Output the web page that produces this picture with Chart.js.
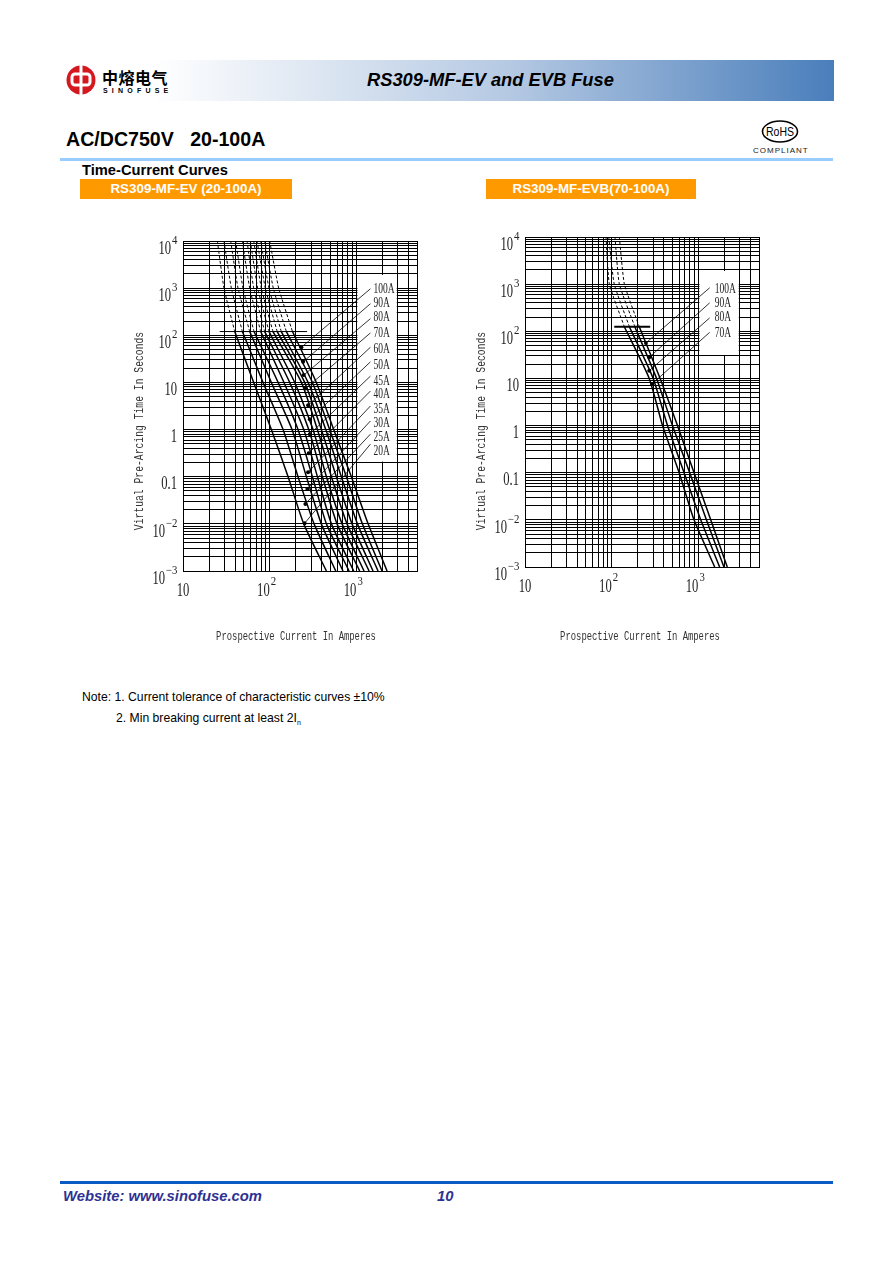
<!DOCTYPE html>
<html>
<head>
<meta charset="utf-8">
<title>RS309-MF-EV and EVB Fuse</title>
<script src="https://cdn.jsdelivr.net/npm/chart.js"></script>
<style>
  html, body { margin: 0; padding: 0; background: #fff; }
  #page { position: relative; width: 893px; height: 1263px; overflow: hidden; font-family: "Liberation Sans", Arial, sans-serif; color: #000; }
  #page > * { position: absolute; }
  canvas { position: absolute; }
  .bar { background: #ff9900; color: #fff; font-weight: bold; font-size: 13.4px; line-height: 20px; height: 20px; text-align: center; }
</style>
</head>
<body>
<div id="page">
  <div style="left:60px;top:60px;width:774px;height:41px;background:linear-gradient(90deg,#fff 0%,#fff 12%,#b5c9e3 58%,#4a7ebb 100%)"></div>
  <svg style="left:66px;top:63px" width="32" height="34" viewBox="0 0 32 34">
    <circle cx="15" cy="17" r="14.5" fill="#d4181f"/>
    <rect x="13.5" y="1" width="3" height="32" fill="#fff"/>
    <rect x="6" y="11" width="18" height="11" rx="3" fill="none" stroke="#fff" stroke-width="3"/>
  </svg>
  <div style="left:102px;top:66px;font:bold 16px 'Noto Sans CJK SC';letter-spacing:0.5px;line-height:22px;white-space:nowrap">中熔电气</div>
  <div style="left:103px;top:86px;font:bold 7px 'Liberation Sans';letter-spacing:4.2px;line-height:9px;white-space:nowrap">SINOFUSE</div>
  <div style="left:367px;top:70px;font:italic bold 18.3px 'Liberation Sans';line-height:20px;white-space:nowrap">RS309-MF-EV and EVB Fuse</div>

  <div style="left:66px;top:129px;font:bold 19.6px 'Liberation Sans';line-height:21px;white-space:pre">AC/DC750V   20-100A</div>
  <svg style="left:760px;top:119px" width="40" height="25" viewBox="0 0 40 25">
    <ellipse cx="20" cy="12.5" rx="17.5" ry="10.5" fill="none" stroke="#000" stroke-width="1.6"/>
    <text x="20" y="17" font-family="Liberation Sans" font-size="13" text-anchor="middle" textLength="28" lengthAdjust="spacingAndGlyphs">RoHS</text>
  </svg>
  <div style="left:753px;top:146px;font:8px 'Liberation Sans';letter-spacing:1px;line-height:10px;white-space:nowrap;color:#222">COMPLIANT</div>
  <div style="left:60px;top:158px;width:773px;height:3px;background:#99ccff"></div>
  <div style="left:82px;top:162px;font:bold 14.7px 'Liberation Sans';line-height:16px;white-space:nowrap">Time-Current Curves</div>
  <div class="bar" style="left:80px;top:179px;width:212px">RS309-MF-EV (20-100A)</div>
  <div class="bar" style="left:486px;top:179px;width:210px">RS309-MF-EVB(70-100A)</div>

  <canvas id="chartEv" style="left:120px;top:225px" width="310" height="430"></canvas>
  <canvas id="chartEvb" style="left:462px;top:221px" width="310" height="430"></canvas>

  <div style="left:82px;top:690px;font:12.2px 'Liberation Sans';line-height:14px;white-space:pre">Note: 1. Current tolerance of characteristic curves ±10%</div>
  <div style="left:116px;top:711px;font:12.2px 'Liberation Sans';line-height:14px;white-space:pre">2. Min breaking current at least 2I<sub style="font-size:7px;line-height:0">n</sub></div>

  <div style="left:60px;top:1181px;width:773px;height:3px;background:#0a5cc4"></div>
  <div style="left:63px;top:1187px;font:italic bold 14.8px 'Liberation Sans';line-height:18px;color:#2e3192;white-space:nowrap">Website: www.sinofuse.com</div>
  <div style="left:437px;top:1187px;font:italic bold 14.8px 'Liberation Sans';line-height:18px;color:#2e3192">10</div>
</div>

<script>
// Time levels the curves were read at (seconds)
const evTimes = [10000, 1000, 120, 10, 1, 0.1, 0.01, 0.001];
const evbTimes = [10000, 1000, 125, 10, 1, 0.1, 0.01, 0.001];

// RS309-MF-EV curves: current (A) at each time level
const ev20 = [24.9, 29.7, 39.5, 65.4, 104.5, 163, 247, 451];
const ev25 = [29.7, 36.1, 48.4, 83.8, 142.6, 212, 325, 578];
const ev30 = [35.5, 43.1, 58.8, 104.5, 181, 265, 394, 701];
const ev35 = [40.5, 49.2, 65.9, 125, 212, 311, 451, 823];
const ev40 = [48.4, 58.8, 78.7, 146, 247, 355, 515, 931];
const ev45 = [54.8, 65.4, 87.5, 170, 282, 405, 598, 1092];
const ev50 = [59.8, 72.7, 98.2, 194, 316, 451, 684, 1225];
const ev60 = [65.4, 80.1, 109, 232, 355, 515, 780, 1400];
const ev70 = [71.4, 89.1, 122, 253, 394, 587, 891, 1556];
const ev80 = [78.7, 98.2, 136, 277, 443, 671, 1028, 1778];
const ev90 = [87.5, 110, 155.6, 311, 492, 767, 1172, 1977];
const ev100 = [100, 127, 183, 345, 547, 875, 1365, 2259];

// RS309-MF-EVB curves
const evb70 = [86, 94, 140, 271, 386, 600, 891, 1542];
const evb80 = [92.5, 107, 160, 301, 440, 684, 1064, 1758];
const evb90 = [109, 122.5, 185, 329, 502, 794, 1236, 1972];
const evb100 = [122.5, 140, 208, 362, 574, 891, 1387, 2153];

// Curve labels and their leader lines (label end, then point on the curve)
const evLabels = ["100A", "90A", "80A", "70A", "60A", "50A", "45A", "40A", "35A", "30A", "25A", "20A"];
const evTextTimes = [1023, 517, 261, 120, 54.8, 25, 11.5, 6.1, 2.94, 1.49, 0.75, 0.378];
const evLabelTimes = [968, 467, 225, 112, 55.7, 27.3, 13.6, 6.56, 3.16, 1.52, 0.8, 0.49];
const evPointAmps = [232, 243, 247, 260, 277, 290, 290, 282, 277, 272, 258, 253];
const evPointTimes = [55.7, 27.3, 14.3, 7.46, 3.27, 1.65, 0.8, 0.316, 0.124, 0.055, 0.0265, 0.0103];
const evbLabels = ["100A", "90A", "80A", "70A"];
const evbTextTimes = [877, 441, 222, 101];
const evbLabelTimes = [836, 401, 192, 95];
const evbPointAmps = [248, 271, 271, 291];
const evbPointTimes = [56.5, 28, 14.6, 7.6];

// Axis grid and tick labels
const xGrid = [10, 20, 30, 40, 50, 60, 70, 80, 90, 100, 200, 300, 400, 500, 600, 700, 800, 900, 1000, 2000, 3000, 4000, 5000];
const yGrid = [
  0.001, 0.002, 0.003, 0.004, 0.005, 0.006, 0.007, 0.008, 0.009,
  0.01, 0.02, 0.03, 0.04, 0.05, 0.06, 0.07, 0.08, 0.09,
  0.1, 0.2, 0.3, 0.4, 0.5, 0.6, 0.7, 0.8, 0.9,
  1, 2, 3, 4, 5, 6, 7, 8, 9,
  10, 20, 30, 40, 50, 60, 70, 80, 90,
  100, 200, 300, 400, 500, 600, 700, 800, 900,
  1000, 2000, 3000, 4000, 5000, 6000, 7000, 8000, 9000, 10000
];
const xTickValues = [10, 100, 1000];
const xTickBases = ["10", "10", "10"];
const xTickExps = ["", "2", "3"];
const yTickValues = [10000, 1000, 100, 10, 1, 0.1, 0.01, 0.001];
const yTickBases = ["10", "10", "10", "10", "1", "0.1", "10", "10"];
const yTickExps = ["4", "3", "2", "", "", "", "−2", "−3"];

// Condensed text, the original is a narrow bitmap font
function squeezed(ctx, text, x, y, font, sx, align) {
  ctx.save();
  ctx.font = font;
  ctx.translate(x, y);
  ctx.scale(sx, 1);
  ctx.textAlign = align;
  ctx.textBaseline = "middle";
  ctx.fillText(text, 0, 0);
  ctx.restore();
}

const baseFont = "18px 'Liberation Serif'";
const expFont = "12px 'Liberation Serif'";
const labelFont = "14px 'Liberation Serif'";
const titleFont = "12px 'Liberation Mono'";

function makeChart(id, times, curves, opts) {
  const datasets = [];
  curves.forEach((amps) => {
    const pts = amps.map((a, i) => ({ x: a, y: times[i] }));
    datasets.push({ data: pts.slice(0, 3), borderColor: "#000", borderWidth: 1, borderDash: [3, 2], tension: 0.15, pointRadius: 0 });
    datasets.push({ data: pts.slice(2), borderColor: "#000", borderWidth: 1.5, tension: 0.2, pointRadius: 0 });
  });
  // short horizontal line where the dashed part stops
  datasets.push({
    data: [{ x: opts.barAmps[0], y: opts.barTime }, { x: opts.barAmps[1], y: opts.barTime }],
    borderColor: "#000", borderWidth: opts.barWidth, pointRadius: 0
  });
  // leader lines with a dot on the curve
  opts.labels.forEach((label, i) => {
    datasets.push({
      data: [{ x: opts.labelAmps, y: opts.labelTimes[i] }, { x: opts.pointAmps[i], y: opts.pointTimes[i] }],
      borderColor: "#000", borderWidth: 0.8, pointRadius: [0, 2], pointBackgroundColor: "#000", pointBorderWidth: 0
    });
  });

  const decorate = {
    id: "decorate",
    beforeDatasetsDraw(chart) {
      // white patch behind the curve labels
      const { ctx, scales: { x, y } } = chart;
      const l = x.getPixelForValue(1000) + 1, r = x.getPixelForValue(3000) - 1;
      const t = y.getPixelForValue(2000) + 1, b = y.getPixelForValue(opts.boxBottom) - 1;
      ctx.fillStyle = "#fff";
      ctx.fillRect(l, t, r - l, b - t);
    },
    afterDraw(chart) {
      const { ctx, scales: { x, y }, chartArea } = chart;
      ctx.fillStyle = "#222";
      xTickValues.forEach((v, i) => {
        const px = x.getPixelForValue(v);
        const py = chartArea.bottom + 20;
        if (xTickExps[i]) {
          squeezed(ctx, xTickBases[i], px, py, baseFont, 0.7, "right");
          squeezed(ctx, xTickExps[i], px + 1, py - 9, expFont, 0.9, "left");
        } else {
          squeezed(ctx, xTickBases[i], px, py, baseFont, 0.7, "center");
        }
      });
      yTickValues.forEach((v, i) => {
        const px = chartArea.left - 6;
        const py = y.getPixelForValue(v) + 8;
        if (yTickExps[i]) {
          const ew = yTickExps[i].length > 1 ? 12 : 6;
          squeezed(ctx, yTickBases[i], px - ew, py, baseFont, 0.7, "right");
          squeezed(ctx, yTickExps[i], px - ew + 1, py - 8, expFont, 0.9, "left");
        } else {
          squeezed(ctx, yTickBases[i], px, py, baseFont, 0.7, "right");
        }
      });
      opts.labels.forEach((label, i) => {
        squeezed(ctx, label, x.getPixelForValue(opts.labelAmps) + opts.textGap, y.getPixelForValue(opts.textTimes[i]) + 2, labelFont, 0.68, "left");
      });
      ctx.fillStyle = "#333";
      squeezed(ctx, "Prospective Current In Amperes", opts.xTitleX, opts.xTitleY, titleFont, 0.74, "center");
      ctx.save();
      ctx.translate(opts.yTitleX, opts.yTitleY);
      ctx.rotate(-Math.PI / 2);
      squeezed(ctx, "Virtual Pre-Arcing Time In Seconds", 0, 0, titleFont, 0.81, "center");
      ctx.restore();
    }
  };

  return new Chart(document.getElementById(id).getContext("2d"), {
    type: "line",
    data: { datasets },
    options: {
      responsive: false,
      animation: false,
      devicePixelRatio: 1,
      layout: { padding: { left: 63, top: 16, right: 13, bottom: 84 } },
      plugins: { legend: { display: false }, tooltip: { enabled: false } },
      scales: {
        x: {
          type: "logarithmic", min: 10, max: 5000,
          grid: { color: "#000", lineWidth: 1, drawTicks: false },
          border: { color: "#000" },
          ticks: { display: false, autoSkip: false },
          afterBuildTicks: (scale) => { scale.ticks = xGrid.map((v) => ({ value: v })); }
        },
        y: {
          type: "logarithmic", min: 0.001, max: 10000,
          grid: { color: "#000", lineWidth: 1, drawTicks: false },
          border: { color: "#000" },
          ticks: { display: false, autoSkip: false },
          afterBuildTicks: (scale) => { scale.ticks = yGrid.map((v) => ({ value: v })); }
        }
      }
    },
    plugins: [decorate]
  });
}

makeChart("chartEv", evTimes, [ev20, ev25, ev30, ev35, ev40, ev45, ev50, ev60, ev70, ev80, ev90, ev100], {
  barAmps: [26.5, 270], barTime: 120, barWidth: 1,
  labels: evLabels, labelAmps: 1451, labelTimes: evLabelTimes, textTimes: evTextTimes, textGap: 3,
  pointAmps: evPointAmps, pointTimes: evPointTimes, boxBottom: 0.2,
  xTitleX: 176, xTitleY: 412, yTitleX: 20, yTitleY: 206
});

makeChart("chartEvb", evbTimes, [evb70, evb80, evb90, evb100], {
  barAmps: [107, 278], barTime: 125, barWidth: 2,
  labels: evbLabels, labelAmps: 1349, labelTimes: evbLabelTimes, textTimes: evbTextTimes, textGap: 5,
  pointAmps: evbPointAmps, pointTimes: evbPointTimes, boxBottom: 30,
  xTitleX: 178, xTitleY: 416, yTitleX: 20, yTitleY: 210
});
</script>
</body>
</html>
